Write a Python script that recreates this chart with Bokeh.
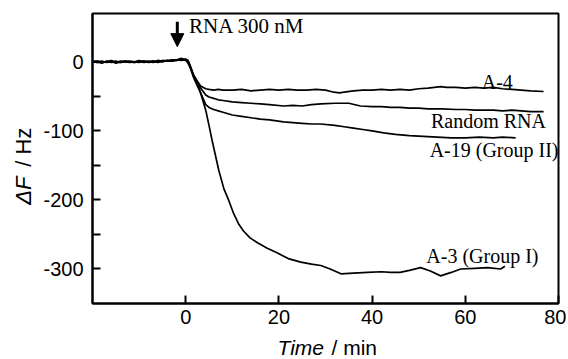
from math import pi
from bokeh.plotting import figure
from bokeh.layouts import row, column
from bokeh.models import Range1d, FixedTicker, Label, Arrow, NormalHead, CustomJSTickFormatter
from bokeh.core.properties import value
from bokeh.embed import file_html
from bokeh.resources import INLINE

# ---- data ----
base_t = [-20, -19, -18, -17, -16, -15, -14, -13, -12, -11, -10, -9, -8, -7, -6, -5, -4, -3, -2, -1]

a4_t = base_t + [0, 0.5, 1, 1.7, 2.5, 3.2, 4.3, 5, 6, 7, 8,
                 10, 12, 14, 16, 18, 20, 22, 24, 26, 28, 30,
                 31.8, 33, 34, 36, 38, 40, 42, 44, 46, 48, 50, 52,
                 54.7, 56, 58, 60, 62, 64, 66, 68, 70, 72, 74, 76.8]
a4_f = [-1, 0, -2, 1, -1, 0, -1, 1, 0, -1, 1, -1, 0, 1, 0, 2, 1, 2, 3, 4,
        3, 1, -6, -19, -28, -35, -39, -40, -41, -40, -41,
        -41, -40, -42, -41, -40, -41, -40, -41, -41, -40, -41,
        -44, -45, -44, -42, -41, -41, -40, -41, -40, -41, -39, -38,
        -36, -37, -37, -38, -37, -38, -37, -39, -40, -41, -42, -43]

rnd_t = base_t + [0, 0.5, 1, 1.7, 2.5, 3.2, 4.3, 5, 6, 7, 8,
                  10, 12, 14, 16, 18, 21, 23, 25, 27, 29, 32, 35, 37.5, 40, 42,
                  44, 46, 48, 50, 52, 55, 58, 60, 62, 64, 66, 68, 70, 72, 74, 76.8]
rnd_f = [0, 1, -1, 0, 2, -1, 1, 0, -1, 0, 2, 0, 1, -1, 1, 0, 2, 1, 3, 2,
         4, 2, -7, -20, -29, -38, -48, -51, -53, -55, -56,
         -58, -59, -60, -61, -62, -64, -63, -64, -62, -61, -60, -60, -64, -65, -65,
         -66, -66, -67, -67, -68, -68, -69, -69, -70, -70, -70, -71, -70, -71, -72, -72]

a19_t = base_t + [0, 0.5, 1, 1.7, 2.5, 3.2, 4.3, 5, 6, 7, 8,
                  10, 12, 14, 16, 18, 21, 23, 25, 27, 29, 32, 34, 36, 38, 40,
                  42.5, 45, 48, 51, 54, 57, 60, 63, 66, 68, 70.8]
a19_f = [1, -1, 0, 0, 1, -2, 0, 1, 0, -1, 0, 1, -1, 0, 2, 1, 1, 3, 2, 3,
         2, 0, -8, -21, -30, -45, -62, -66, -69, -71, -73,
         -77, -79, -81, -83, -84, -87, -88, -89, -90, -90, -92, -94, -96, -98, -100,
         -103, -105, -107, -108, -109, -110, -110, -109, -110, -109, -110]

a3_t = base_t + [0, 0.5, 1, 1.7, 2.5, 3.2, 4.3, 5, 5.8, 7.1,
                 8.2, 9.2, 10.3, 11.3, 12.4, 13.8, 15.4, 17.5, 19.7, 22,
                 24.7, 27, 29, 31, 33.3, 36, 39, 42, 44, 46,
                 48, 50.4, 52.5, 54.7, 57, 59, 62, 64.8, 67.6, 68.5]
a3_f = [0, -1, 1, -1, 0, 1, -1, 0, 1, 0, -1, 1, 0, 1, -1, 1, 2, 1, 2, 5,
        3, -2, -9, -23, -35, -45, -70, -92, -118, -157,
        -184, -200, -220, -234, -245, -255, -262, -270, -277, -285,
        -290, -293, -295, -300, -307, -306, -305, -304, -305, -305,
        -302, -298, -303, -310, -305, -300, -299, -298, -300, -296]

x_ticks = [0, 20, 40, 60, 80]
y_ticks = [0, -100, -200, -300]
y_minor = [-50, -150, -250]

series_labels = ["A-4", "Random RNA", "A-19 (Group II)", "A-3 (Group I)"]
label_pos = [(70.2, -28.5), (77.3, -85.7), (80.0, -128), (75.7, -281)]
arrow_x, arrow_y0, arrow_y1 = -1.8, 58, 22
note_text, note_pos = "RNA 300 nM", (0.7, 51.5)

H = 333
TOP, BOTTOM = 13, 30
LEFT_W = 40
STRIP_H = 25

# ---- main figure ----
p = figure(width=526, height=H, x_range=Range1d(-20, 80), y_range=Range1d(-350, 70),
           output_backend="svg", toolbar_location=None,
           min_border_left=51, min_border_right=8, min_border_top=TOP, min_border_bottom=BOTTOM)
p.background_fill_color = "white"
p.border_fill_color = "white"
p.xgrid.visible = False
p.ygrid.visible = False
p.outline_line_color = "black"
p.outline_line_width = 2
p.outline_line_alpha = 1

fmt = CustomJSTickFormatter(code="return tick.toString();")
for ax in (p.xaxis[0], p.yaxis[0]):
    ax.axis_line_width = 2
    ax.axis_line_color = "black"
    ax.major_tick_in = 8
    ax.major_tick_out = 0
    ax.minor_tick_in = 8
    ax.minor_tick_out = 0
    ax.major_tick_line_width = 2
    ax.minor_tick_line_width = 2
    ax.major_label_text_font = "Liberation Sans"
    ax.major_label_text_font_size = "20px"
    ax.major_label_text_color = "black"
    ax.formatter = fmt

p.xaxis[0].ticker = FixedTicker(ticks=x_ticks)
p.yaxis[0].ticker = FixedTicker(ticks=y_ticks, minor_ticks=y_minor)
p.xaxis[0].major_label_standoff = 6
p.yaxis[0].major_label_standoff = 9

for t, f in [(a4_t, a4_f), (rnd_t, rnd_f), (a19_t, a19_f), (a3_t, a3_f)]:
    p.line(t, f, line_color="black", line_width=1.7)

for txt, (lx, ly) in zip(series_labels, label_pos):
    p.add_layout(Label(x=lx, y=ly, text=txt, text_align="right", text_baseline="middle",
                       text_font="Liberation Serif", text_font_size="20px", text_color="black"))

p.add_layout(Label(x=note_pos[0], y=note_pos[1], text=note_text, text_align="left",
                   text_baseline="middle", text_font="Liberation Serif",
                   text_font_size="21px", text_color="black"))

p.add_layout(Arrow(end=NormalHead(size=13, fill_color="black", line_color="black"),
                   x_start=arrow_x, y_start=arrow_y0, x_end=arrow_x, y_end=arrow_y1,
                   line_width=3, line_color="black"))

# ---- narrow left strip holding the rotated y-axis title ----
q = figure(width=LEFT_W, height=H, x_range=Range1d(0, LEFT_W), y_range=p.y_range,
           output_backend="svg", toolbar_location=None, x_axis_type=None, y_axis_type=None,
           min_border_left=0, min_border_right=0, min_border_top=TOP, min_border_bottom=BOTTOM)
q.xgrid.visible = False
q.ygrid.visible = False
q.outline_line_color = None
q.background_fill_color = "white"
q.border_fill_color = "white"
q.text(x=[23], y=[-207], text=["ΔF"], angle=pi / 2, text_font=value("Liberation Sans"),
       text_font_style="italic", text_font_size="22px", text_align="left",
       text_baseline="middle", text_color="black")
q.text(x=[23], y=[-152], text=["/ Hz"], angle=pi / 2, text_font=value("Liberation Sans"),
       text_font_size="22px", text_align="left", text_baseline="middle", text_color="black")

# ---- bottom strip holding the x-axis title ----
TOTAL_W = LEFT_W + 526
r = figure(width=TOTAL_W, height=STRIP_H, x_range=Range1d(0, TOTAL_W), y_range=Range1d(0, STRIP_H),
           output_backend="svg", toolbar_location=None, x_axis_type=None, y_axis_type=None,
           min_border=0)
r.xgrid.visible = False
r.ygrid.visible = False
r.outline_line_color = None
r.background_fill_color = "white"
r.border_fill_color = "white"
r.text(x=[277], y=[11], text=["Time"], text_font=value("Liberation Sans"),
       text_font_style="italic", text_font_size="21px", text_align="left",
       text_baseline="middle", text_color="black")
r.text(x=[331], y=[11], text=["/ min"], text_font=value("Liberation Sans"),
       text_font_size="21px", text_align="left", text_baseline="middle", text_color="black")

layout = column(row(q, p, spacing=0), r, spacing=0)
open("out.html", "w", encoding="utf-8").write(file_html(layout, INLINE))
